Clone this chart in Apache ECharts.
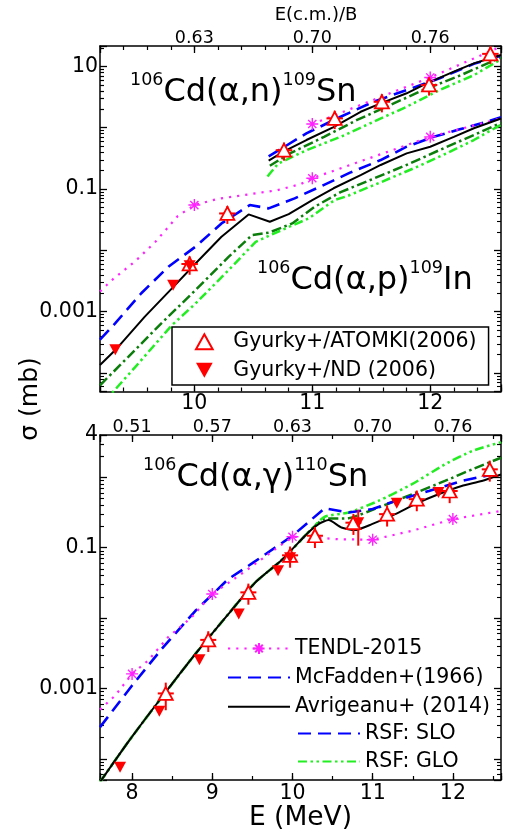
<!DOCTYPE html>
<html><head><meta charset="utf-8">
<script src="https://cdn.jsdelivr.net/npm/echarts@6/dist/echarts.min.js"></script>
<style>html,body{margin:0;padding:0;background:#fff}#c{width:506px;height:836px}</style>
</head><body><div id="c"></div>
<script>
// ---------- tick labels ----------
const topRatioTickE = [10, 11, 12];
const topRatioTickLabels = ['0.63', '0.70', '0.76'];
const botRatioTickE = [8, 9, 10, 11, 12];
const botRatioTickLabels = ['0.51', '0.57', '0.63', '0.70', '0.76'];
const topYTickValues = [10, 0.1, 0.001];
const topYTickLabels = ['10', '0.1', '0.001'];
const botYTickValues = [4, 0.1, 0.001];
const botYTickLabels = ['4', '0.1', '0.001'];
const topExtraMinor = [2, 3, 4, 5, 6, 7, 8, 9, 20];
const botExtraMinor = [2, 3];

// ---------- 106Cd(a,n)109Sn ----------
const anAvrE = [10.63, 10.76, 10.95, 11.18, 11.41, 11.58, 11.80, 11.97, 12.20, 12.37, 12.60];
const anAvrS = [0.29, 0.41, 0.63, 1.02, 1.82, 2.5, 3.64, 5.3, 8.2, 11.2, 15.3];
const anMcfE = [10.63, 10.95, 11.24, 11.52, 11.80, 12.08, 12.37, 12.60];
const anMcfS = [0.34, 0.81, 1.51, 2.65, 4.12, 6.4, 11.0, 15.0];
const anDkgE = [10.64, 10.81, 11.10, 11.38, 11.66, 11.94, 12.23, 12.60];
const anDkgS = [0.24, 0.38, 0.71, 1.34, 2.34, 4.12, 6.8, 14.0];
const anGloE = [10.62, 10.71, 10.95, 11.24, 11.52, 11.80, 12.08, 12.37, 12.60];
const anGloS = [0.16, 0.26, 0.43, 0.71, 1.25, 2.2, 4.12, 7.2, 13.0];
const anTendlE = [11.0, 12.0, 12.6];
const anTendlS = [1.15, 6.6, 21];
const anTendlMarkE = [11, 12];
const anAtomkiE = [10.76, 11.19, 11.59, 11.99, 12.51];
const anAtomkiS = [0.43, 1.42, 2.65, 4.98, 16.0];
const anAtomkiDE = [0.07, 0.07, 0.07, 0.07, 0.07];
const anAtomkiDS = [0.14, 0.47, 0.87, 1.64, 5.0];

// ---------- 106Cd(a,p)109In ----------
const apAvrE = [9.2, 9.33, 9.58, 9.81, 10.01, 10.23, 10.46, 10.64, 10.80, 11.0, 11.18, 11.41, 11.58, 11.80, 12.0, 12.2, 12.37, 12.6];
const apAvrS = [1.35e-4, 2.37e-4, 8.3e-4, 2.4e-3, 6.1e-3, 0.0167, 0.0386, 0.0293, 0.039, 0.066, 0.103, 0.169, 0.247, 0.382, 0.49, 0.71, 0.98, 1.41];
const apMcfE = [9.2, 9.33, 9.55, 9.78, 10.01, 10.23, 10.47, 10.63, 10.85, 11.07, 11.32, 11.58, 11.80, 12.03, 12.25, 12.48, 12.6];
const apMcfS = [3.5e-4, 6.5e-4, 2.0e-3, 5.4e-3, 0.0115, 0.0275, 0.0548, 0.0484, 0.0705, 0.11, 0.185, 0.297, 0.49, 0.71, 0.94, 1.25, 1.48];
const apDkgE = [9.2, 9.44, 9.72, 10.01, 10.29, 10.49, 10.63, 10.83, 11.02, 11.24, 11.52, 11.80, 12.08, 12.37, 12.6];
const apDkgS = [6.3e-5, 1.84e-4, 6.46e-4, 2.25e-3, 7.85e-3, 0.0178, 0.0194, 0.0275, 0.0514, 0.089, 0.148, 0.247, 0.433, 0.76, 1.2];
const apGloE = [9.2, 9.3, 9.5, 9.81, 10.01, 10.29, 10.52, 10.74, 10.97, 11.19, 11.29, 11.58, 11.86, 12.14, 12.37, 12.6];
const apGloS = [2.8e-5, 4.68e-5, 1.26e-4, 6.04e-4, 1.36e-3, 4.77e-3, 0.0138, 0.0214, 0.0333, 0.0662, 0.0759, 0.129, 0.218, 0.382, 0.63, 1.12];
const apTendlE = [9.2, 9.31, 9.5, 9.67, 9.86, 10.0, 10.2, 10.45, 10.7, 10.9, 11.0, 12.0, 12.6];
const apTendlS = [2.14e-3, 3.39e-3, 6.68e-3, 0.0138, 0.0363, 0.0548, 0.0692, 0.0813, 0.0955, 0.12, 0.15, 0.71, 1.42];
const apTendlMarkE = [10, 11, 12];
const apAtomkiE = [9.96, 10.28];
const apAtomkiS = [0.0060, 0.040];
const apAtomkiDE = [0.07, 0.07];
const apAtomkiDS = [0.002, 0.013];
const apNdE = [9.33, 9.82, 9.96];
const apNdS = [2.4e-4, 2.7e-3, 5.6e-3];

// ---------- 106Cd(a,g)110Sn ----------
const agAvrE = [7.6, 7.95, 8.37, 8.79, 9.2, 9.53, 9.87, 10.2, 10.33, 10.45, 10.61, 10.78, 10.99, 11.28, 11.53, 11.82, 12.11, 12.36, 12.6];
const agAvrS = [4.68e-5, 1.73e-4, 7.5e-4, 3.1e-3, 0.0114, 0.0316, 0.0676, 0.166, 0.219, 0.247, 0.194, 0.178, 0.216, 0.30, 0.417, 0.575, 0.755, 0.889, 1.10];
const agSloE = [7.6, 8.0, 8.37, 8.79, 9.2, 9.5, 10.0, 10.4, 10.7, 11.0, 11.28, 11.7, 12.11, 12.6];
const agSloS = [2.82e-4, 1.1e-3, 3.65e-3, 0.0127, 0.0359, 0.0603, 0.148, 0.363, 0.316, 0.355, 0.462, 0.641, 0.889, 1.167];
const agDkgE = [7.6, 7.95, 8.37, 8.79, 9.2, 9.53, 9.87, 10.2, 10.4, 10.7, 11.07, 11.49, 11.9, 12.24, 12.6];
const agDkgS = [4.68e-5, 1.73e-4, 7.5e-4, 3.1e-3, 0.0114, 0.0316, 0.0676, 0.166, 0.257, 0.263, 0.372, 0.575, 0.889, 1.30, 1.9];
const agGloE = [7.6, 7.95, 8.37, 8.79, 9.2, 9.53, 9.87, 10.2, 10.4, 10.7, 11.07, 11.49, 11.9, 12.24, 12.6];
const agGloS = [4.68e-5, 1.73e-4, 7.5e-4, 3.1e-3, 0.0114, 0.0316, 0.0676, 0.166, 0.275, 0.316, 0.462, 0.80, 1.53, 2.37, 3.16];
const agTendlE = [7.6, 7.79, 8.0, 8.2, 8.45, 8.74, 9.0, 9.24, 9.5, 9.75, 10.0, 10.28, 10.57, 11.0, 11.49, 12.0, 12.6];
const agTendlS = [5.0e-4, 7.94e-4, 1.61e-3, 2.49e-3, 5.37e-3, 0.0102, 0.022, 0.0339, 0.055, 0.0891, 0.143, 0.14, 0.132, 0.13, 0.174, 0.255, 0.333];
const agTendlMarkE = [8, 9, 10, 11, 12];
const agAtomkiE = [8.42, 8.95, 9.45, 9.97, 10.28, 10.76, 11.18, 11.55, 11.96, 12.46];
const agAtomkiS = [8.5e-4, 4.9e-3, 0.0232, 0.078, 0.148, 0.227, 0.30, 0.49, 0.64, 1.30];
const agAtomkiDE = [0.1, 0.1, 0.1, 0.1, 0.1, 0.1, 0.1, 0.1, 0.1, 0.1];
const agAtomkiDS = [3.6e-4, 1.6e-3, 7.7e-3, 0.026, 0.049, 0.075, 0.10, 0.16, 0.21, 0.43];
const agNdE = [7.85, 8.34, 8.84, 9.33, 9.82, 9.97, 10.82, 11.30, 11.82];
const agNdS = [7.6e-5, 4.75e-4, 2.55e-3, 0.0114, 0.047, 0.072, 0.227, 0.43, 0.61];
const agNdDS = [0, 0, 0, 0, 0, 0, 0.12, 0, 0];

// ---------- names ----------
const N_TENDL = 'TENDL-2015', N_MCF = 'McFadden+(1966)', N_AVR = 'Avrigeanu+ (2014)',
      N_SLO = 'RSF: SLO', N_GLO = 'RSF: GLO', N_DKG = 'dash-dot',
      N_ATOMKI = 'Gyurky+/ATOMKI(2006)', N_ND = 'Gyurky+/ND (2006)';

const FONT = "'DejaVu Sans', sans-serif";
const COL = {black: '#000000', blue: '#0000ff', dkg: '#0b7d0b', glo: '#22ee22', mag: '#ff22ff', red: '#ff0000'};
const ASTERISK = 'path://M5,0L5,10M0,5L10,5M1.6,1.6L8.4,8.4M1.6,8.4L8.4,1.6';
const TRI_UP = 'path://M5,0L10,9L0,9Z';
const TRI_DOWN = 'path://M0,0L10,0L5,9Z';

const pts = (E, S) => E.map((e, i) => [e, S[i]]);
const STY = {
  avr: {color: COL.black, width: 2, type: 'solid'},
  mcf: {color: COL.blue, width: 2.6, type: [13, 7]},
  dkg: {color: COL.dkg, width: 2.5, type: [10, 3.5, 2.5, 3.5]},
  glo: {color: COL.glo, width: 2.5, type: [9, 3.5, 2.5, 3.5, 2.5, 3.5]}
};
function curve(name, E, S, sty, xi, yi, smooth) {
  return {type: 'line', name, xAxisIndex: xi, yAxisIndex: yi, data: pts(E, S), symbol: 'none',
    smooth: smooth || false, lineStyle: sty, itemStyle: {color: sty.color}, z: 2, silent: true, animation: false};
}
function tendl(E, S, markE, xi, yi) {
  const data = E.map((e, i) => markE.some(m => Math.abs(m - e) < 1e-6) ? [e, S[i]] : {value: [e, S[i]], symbol: 'none'});
  return {type: 'line', name: N_TENDL, xAxisIndex: xi, yAxisIndex: yi, data, symbol: ASTERISK, symbolSize: 12,
    showAllSymbol: true, lineStyle: {color: COL.mag, width: 2.2, type: [2.2, 6]},
    itemStyle: {color: COL.mag, borderColor: COL.mag, borderWidth: 1.4}, z: 2, silent: true, animation: false};
}
function errBars(E, S, DE, DS, xi, yi) {
  return {type: 'custom', xAxisIndex: xi, yAxisIndex: yi, z: 3, silent: true, animation: false,
    data: E.map((e, i) => [e, S[i], DE ? DE[i] : 0, DS ? DS[i] : 0]),
    encode: {x: 0, y: 1},
    renderItem: function (params, api) {
      const x = api.value(0), y = api.value(1), dx = api.value(2), dy = api.value(3);
      const ch = [];
      const st = {stroke: COL.red, lineWidth: 2};
      if (dx > 0) { const a = api.coord([x - dx, y]), b = api.coord([x + dx, y]);
        ch.push({type: 'line', shape: {x1: a[0], y1: a[1], x2: b[0], y2: b[1]}, style: st}); }
      if (dy > 0) { const a = api.coord([x, y - dy]), b = api.coord([x, y + dy]);
        ch.push({type: 'line', shape: {x1: a[0], y1: a[1], x2: b[0], y2: b[1]}, style: st}); }
      return {type: 'group', children: ch};
    }};
}
function atomki(E, S, xi, yi) {
  return {type: 'scatter', name: N_ATOMKI, xAxisIndex: xi, yAxisIndex: yi, data: pts(E, S), symbol: TRI_UP,
    symbolSize: [14, 13], itemStyle: {color: '#ffffff', borderColor: COL.red, borderWidth: 1.8, opacity: 1}, z: 4, silent: true, animation: false};
}
function nd(E, S, xi, yi) {
  return {type: 'scatter', name: N_ND, xAxisIndex: xi, yAxisIndex: yi, data: pts(E, S), symbol: TRI_DOWN,
    symbolSize: [12, 11], itemStyle: {color: COL.red, opacity: 1}, z: 4, silent: true, animation: false};
}

// ---------- axes ----------
const AX_LINE = {show: true, onZero: false, lineStyle: {color: '#000', width: 1.5}};
function intLabel(v) { return Math.abs(v - Math.round(v)) < 1e-6 ? String(Math.round(v)) : ''; }
function lookup(t, l) { return v => { const i = t.findIndex(x => Math.abs(x - v) < 1e-6); return i >= 0 ? l[i] : ''; }; }
function logLookup(t, l) { return v => { for (let i = 0; i < t.length; i++) if (Math.abs(Math.log10(v) - Math.log10(t[i])) < 1e-6) return l[i]; return ''; }; }
function xMajor(gi, pos, min, max, split, fmt, fs, margin, extra) {
  return Object.assign({type: 'value', gridIndex: gi, position: pos, min, max, splitNumber: split, axisLine: AX_LINE,
    axisTick: {inside: true, length: 7, lineStyle: {color: '#000', width: 1.3}},
    axisLabel: {show: true, margin, formatter: fmt, color: '#000', fontSize: fs, fontFamily: FONT},
    splitLine: {show: false}}, extra || {});
}
function xMinor(gi, pos, min, max, split) {
  return {type: 'value', gridIndex: gi, position: pos, min, max, splitNumber: split, axisLine: {show: false},
    axisTick: {inside: true, length: 4, lineStyle: {color: '#000', width: 1.2}}, axisLabel: {show: false}, splitLine: {show: false}};
}
function yLog(gi, pos, min, max, fmt) {
  return {type: 'log', logBase: 10, gridIndex: gi, position: pos, min, max, axisLine: AX_LINE,
    axisTick: {inside: true, length: 7, lineStyle: {color: '#000', width: 1.3}},
    minorTick: {show: true, splitNumber: 9, length: 4, lineStyle: {color: '#000', width: 1.1}},
    axisLabel: {show: !!fmt, margin: 2, formatter: fmt || undefined, color: '#000', fontSize: 20.5, fontFamily: FONT},
    splitLine: {show: false}, minorSplitLine: {show: false}};
}
function yExtra(gi, pos, min, max, vals) {
  return {type: 'log', logBase: 10, gridIndex: gi, position: pos, min, max, axisLine: {show: false},
    axisTick: {inside: true, length: 4, customValues: vals, lineStyle: {color: '#000', width: 1.1}},
    axisLabel: {show: false}, splitLine: {show: false}};
}

const xAxis = [
  xMajor(0, 'bottom', 9.2, 12.6, 3, intLabel, 20.5, 2),
  xMinor(0, 'bottom', 9.2, 12.6, 17),
  xMajor(0, 'top', 9.2, 12.6, 3, lookup(topRatioTickE, topRatioTickLabels), 17.5, -1),
  xMinor(0, 'top', 9.2, 12.6, 17),
  xMajor(1, 'bottom', 7.6, 12.6, 5, intLabel, 20.5, 3, {name: 'E (MeV)', nameLocation: 'middle', nameGap: 23,
    nameTextStyle: {fontSize: 26.5, color: '#000', fontFamily: FONT, verticalAlign: 'top'}}),
  xMinor(1, 'bottom', 7.6, 12.6, 10),
  xMajor(1, 'top', 7.6, 12.6, 5, lookup(botRatioTickE, botRatioTickLabels), 17.5, -1),
  xMinor(1, 'top', 7.6, 12.6, 10)
];
const yAxis = [
  yLog(0, 'left', 5e-5, 21.5, logLookup(topYTickValues, topYTickLabels)),
  yLog(0, 'right', 5e-5, 21.5, null),
  yLog(1, 'left', 5e-5, 4, logLookup(botYTickValues, botYTickLabels)),
  yLog(1, 'right', 5e-5, 4, null),
  yExtra(0, 'left', 5e-5, 21.5, topExtraMinor),
  yExtra(0, 'right', 5e-5, 21.5, topExtraMinor),
  yExtra(1, 'left', 5e-5, 4, botExtraMinor),
  yExtra(1, 'right', 5e-5, 4, botExtraMinor)
];

const series = [
  curve(N_DKG, anDkgE, anDkgS, STY.dkg, 0, 0),
  curve(N_GLO, anGloE, anGloS, STY.glo, 0, 0),
  curve(N_DKG, apDkgE, apDkgS, STY.dkg, 0, 0),
  curve(N_GLO, apGloE, apGloS, STY.glo, 0, 0),
  curve(N_MCF, anMcfE, anMcfS, STY.mcf, 0, 0),
  curve(N_MCF, apMcfE, apMcfS, STY.mcf, 0, 0),
  tendl(anTendlE, anTendlS, anTendlMarkE, 0, 0),
  tendl(apTendlE, apTendlS, apTendlMarkE, 0, 0),
  curve(N_AVR, anAvrE, anAvrS, STY.avr, 0, 0),
  curve(N_AVR, apAvrE, apAvrS, STY.avr, 0, 0),
  errBars(anAtomkiE, anAtomkiS, anAtomkiDE, anAtomkiDS, 0, 0),
  errBars(apAtomkiE, apAtomkiS, apAtomkiDE, apAtomkiDS, 0, 0),
  atomki(anAtomkiE, anAtomkiS, 0, 0),
  atomki(apAtomkiE, apAtomkiS, 0, 0),
  nd(apNdE, apNdS, 0, 0),
  curve(N_DKG, agDkgE, agDkgS, STY.dkg, 4, 2, 0.2),
  curve(N_GLO, agGloE, agGloS, STY.glo, 4, 2, 0.2),
  curve(N_SLO, agSloE, agSloS, STY.mcf, 4, 2),
  tendl(agTendlE, agTendlS, agTendlMarkE, 4, 2),
  curve(N_AVR, agAvrE, agAvrS, STY.avr, 4, 2, 0.2),
  errBars(agAtomkiE, agAtomkiS, agAtomkiDE, agAtomkiDS, 4, 2),
  errBars(agNdE, agNdS, null, agNdDS, 4, 2),
  atomki(agAtomkiE, agAtomkiS, 4, 2),
  nd(agNdE, agNdS, 4, 2)
];

const LEG_TXT = {fontSize: 20.5, color: '#000', fontFamily: FONT};
const noSym = {opacity: 0};
const legend = [
  {orient: 'vertical', left: 172, top: 327, padding: [4.25, 12, 4.25, 23], itemGap: 7.5, itemWidth: 48, itemHeight: 15,
   borderColor: '#000', borderWidth: 1.5, backgroundColor: '#ffffff', borderRadius: 0, selectedMode: false,
   textStyle: LEG_TXT, data: [N_ATOMKI, N_ND]},
  {orient: 'vertical', left: 227, top: 638, padding: 0, itemGap: 8.1, itemWidth: 62, itemHeight: 14,
   selectedMode: false, textStyle: LEG_TXT,
   data: [N_TENDL, {name: N_MCF, itemStyle: noSym}, {name: N_AVR, itemStyle: noSym}]},
  {orient: 'vertical', left: 297, top: 723, padding: 0, itemGap: 7, itemWidth: 62, itemHeight: 14,
   selectedMode: false, textStyle: LEG_TXT,
   data: [{name: N_SLO, itemStyle: noSym}, {name: N_GLO, itemStyle: noSym}]}
];

function title(left, top, a, mid, b, tail) {
  return {type: 'text', left, top, z: 10, silent: true,
    style: {text: '{s|' + a + '}{m|' + mid + '}{s|' + b + '}{m|' + tail + '}', fill: '#000',
      rich: {s: {fontSize: 17.5, fontFamily: FONT, verticalAlign: 'top', fill: '#000'},
             m: {fontSize: 32, fontFamily: FONT, verticalAlign: 'bottom', padding: [5, 0, 0, 0], fill: '#000'}}}};
}

const option = {
  animation: false,
  backgroundColor: '#ffffff',
  textStyle: {fontFamily: FONT},
  grid: [
    {left: 100, right: 5, top: 46, height: 345.5},
    {left: 100, right: 5, top: 435, height: 345}
  ],
  xAxis, yAxis, series, legend,
  graphic: [
    title(130, 71.5, '106', 'Cd(α,n)', '109', 'Sn'),
    title(257, 259.5, '106', 'Cd(α,p)', '109', 'In'),
    title(143, 456.3, '106', 'Cd(α,γ)', '110', 'Sn'),
    {type: 'text', x: 316, y: 15.5, silent: true,
     style: {text: 'E(c.m.)/B', fontSize: 18, fontFamily: FONT, fill: '#000', align: 'center', verticalAlign: 'middle'}},
    {type: 'text', x: 30, y: 399, rotation: Math.PI / 2, silent: true,
     style: {text: 'σ (mb)', fontSize: 25, fontFamily: FONT, fill: '#000', align: 'center', verticalAlign: 'middle'}}
  ]
};
const chart = echarts.init(document.getElementById('c'), null, {renderer: 'canvas'});
chart.setOption(option);
</script></body></html>
